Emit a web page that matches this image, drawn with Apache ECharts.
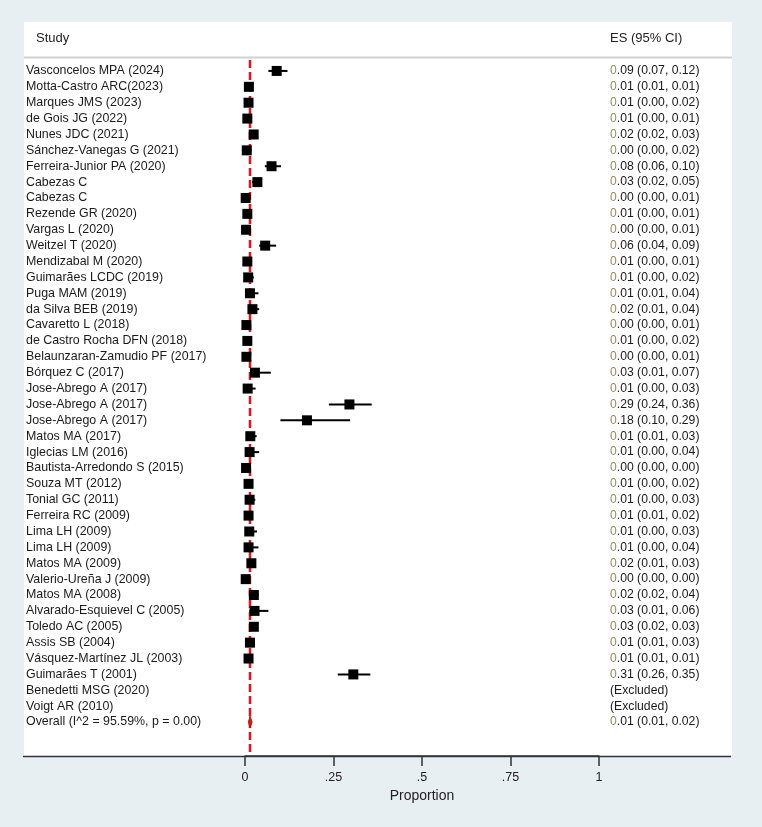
<!DOCTYPE html>
<html><head><meta charset="utf-8">
<script src="https://cdn.jsdelivr.net/npm/echarts@6/dist/echarts.min.js"></script>
<style>html,body{margin:0;padding:0;background:#e8eff2}#c{width:762px;height:827px}</style>
</head><body><div id="c"></div>
<script>
const studies = [
 'Vasconcelos MPA (2024)','Motta-Castro ARC(2023)','Marques JMS (2023)','de Gois JG (2022)','Nunes JDC (2021)',
 'Sánchez-Vanegas G (2021)','Ferreira-Junior PA (2020)','Cabezas C','Cabezas C','Rezende GR (2020)',
 'Vargas L (2020)','Weitzel T (2020)','Mendizabal M (2020)','Guimarães LCDC (2019)','Puga MAM (2019)',
 'da Silva BEB (2019)','Cavaretto L (2018)','de Castro Rocha DFN (2018)','Belaunzaran-Zamudio PF (2017)','Bórquez C (2017)',
 'Jose-Abrego A (2017)','Jose-Abrego A (2017)','Jose-Abrego A (2017)','Matos MA (2017)','Iglecias LM (2016)',
 'Bautista-Arredondo S (2015)','Souza MT (2012)','Tonial GC (2011)','Ferreira RC (2009)','Lima LH (2009)',
 'Lima LH (2009)','Matos MA (2009)','Valerio-Ureña J (2009)','Matos MA (2008)','Alvarado-Esquievel C (2005)',
 'Toledo AC (2005)','Assis SB (2004)','Vásquez-Martínez JL (2003)','Guimarães T (2001)','Benedetti MSG (2020)',
 'Voigt AR (2010)','Overall (I^2 = 95.59%, p = 0.00)'
];
const esLabels = [
 '0.09 (0.07, 0.12)','0.01 (0.01, 0.01)','0.01 (0.00, 0.02)','0.01 (0.00, 0.01)','0.02 (0.02, 0.03)',
 '0.00 (0.00, 0.02)','0.08 (0.06, 0.10)','0.03 (0.02, 0.05)','0.00 (0.00, 0.01)','0.01 (0.00, 0.01)',
 '0.00 (0.00, 0.01)','0.06 (0.04, 0.09)','0.01 (0.00, 0.01)','0.01 (0.00, 0.02)','0.01 (0.01, 0.04)',
 '0.02 (0.01, 0.04)','0.00 (0.00, 0.01)','0.01 (0.00, 0.02)','0.00 (0.00, 0.01)','0.03 (0.01, 0.07)',
 '0.01 (0.00, 0.03)','0.29 (0.24, 0.36)','0.18 (0.10, 0.29)','0.01 (0.01, 0.03)','0.01 (0.00, 0.04)',
 '0.00 (0.00, 0.00)','0.01 (0.00, 0.02)','0.01 (0.00, 0.03)','0.01 (0.01, 0.02)','0.01 (0.00, 0.03)',
 '0.01 (0.00, 0.04)','0.02 (0.01, 0.03)','0.00 (0.00, 0.00)','0.02 (0.02, 0.04)','0.03 (0.01, 0.06)',
 '0.03 (0.02, 0.03)','0.01 (0.01, 0.03)','0.01 (0.01, 0.01)','0.31 (0.26, 0.35)','(Excluded)',
 '(Excluded)','0.01 (0.01, 0.02)'
];
// effect sizes as plotted (last entry = overall)
const es = [0.0895,0.011,0.010,0.0066,0.0245,0.005,0.075,0.035,0.002,0.0066,
 0.003,0.057,0.0066,0.009,0.014,0.021,0.004,0.0066,0.004,0.028,
 0.0075,0.295,0.175,0.015,0.013,0.003,0.010,0.013,0.010,0.012,
 0.010,0.018,0.002,0.025,0.027,0.025,0.014,0.010,0.306,null,
 null,0.014];
const lo = [0.066,0.008,0.003,0.002,0.018,0.001,0.056,0.020,0.000,0.003,
 0.000,0.040,0.003,0.004,0.006,0.010,0.001,0.002,0.001,0.014,
 0.002,0.237,0.100,0.008,0.004,0.001,0.004,0.004,0.006,0.004,
 0.003,0.010,0.001,0.018,0.012,0.020,0.008,0.007,0.262,null,
 null,0.010];
const hi = [0.120,0.013,0.020,0.012,0.032,0.018,0.102,0.048,0.008,0.012,
 0.009,0.088,0.012,0.025,0.038,0.040,0.010,0.016,0.009,0.073,
 0.030,0.358,0.297,0.033,0.040,0.005,0.020,0.029,0.020,0.034,
 0.038,0.030,0.004,0.039,0.066,0.032,0.028,0.013,0.354,null,
 null,0.020];
const xTicks = [0, 0.25, 0.5, 0.75, 1];
const tickLabels = ['0', '.25', '.5', '.75', '1'];
const refLine = 0.014;
const overallRow = studies.length - 1;

const FONT = "'Liberation Sans', Arial, sans-serif";
const rows = studies.map((_, i) => i);
const squares = [], whiskers = [];
rows.forEach(i => {
  if (i === overallRow || es[i] == null) return;
  squares.push([es[i], i]);
  whiskers.push([lo[i], hi[i], i]);
});
const diamond = [[lo[overallRow], es[overallRow], hi[overallRow], overallRow]];

const chart = echarts.init(document.getElementById('c'), null, {renderer: 'canvas'});
chart.setOption({
  backgroundColor: '#e8eff2',
  animation: false,
  textStyle: {fontFamily: FONT},
  graphic: [
    {type: 'rect', z: -10, shape: {x: 24, y: 22, width: 708, height: 734}, style: {fill: '#ffffff'}},
    {type: 'line', z: -9, shape: {x1: 24, y1: 57.5, x2: 732, y2: 57.5}, style: {stroke: '#d2d2d2', lineWidth: 2}},
    {type: 'text', x: 36, y: 38, style: {text: 'Study', font: '13px ' + FONT, fill: '#222', verticalAlign: 'middle'}},
    {type: 'text', x: 610, y: 38, style: {text: 'ES (95% CI)', font: '13px ' + FONT, fill: '#222', verticalAlign: 'middle'}},
    {type: 'line', z: 5, shape: {x1: 23, y1: 756.5, x2: 731, y2: 756.5}, style: {stroke: '#333', lineWidth: 1.5}}
  ],
  grid: [
    {left: 245, right: 163, top: 60, bottom: 71},
    {left: 245, right: 163, top: 63, height: 667}
  ],
  xAxis: [
    {gridIndex: 0, type: 'value', min: 0, max: 1, interval: 0.25,
     axisLine: {show: true, lineStyle: {color: '#333', width: 1.5}},
     axisTick: {show: true, length: 10, lineStyle: {color: '#333', width: 1.5}},
     axisLabel: {margin: 15, fontSize: 12.5, color: '#222', fontFamily: FONT,
       formatter: v => { const k = xTicks.indexOf(v); return k >= 0 ? tickLabels[k] : ''; }},
     splitLine: {show: false},
     name: 'Proportion', nameLocation: 'middle', nameGap: 30,
     nameTextStyle: {fontSize: 14, color: '#222', fontFamily: FONT}},
    {gridIndex: 1, type: 'value', min: 0, max: 1, show: false}
  ],
  yAxis: [
    {gridIndex: 0, type: 'value', min: 0, max: 1, show: false},
    {gridIndex: 1, type: 'category', data: studies, inverse: true, position: 'left',
     axisLine: {show: false}, axisTick: {show: false}, splitLine: {show: false},
     axisLabel: {align: 'left', margin: 219, fontSize: 12.4, color: '#1a1a1a', fontFamily: FONT, interval: 0}},
    {gridIndex: 1, type: 'category', data: esLabels, inverse: true, position: 'right',
     axisLine: {show: false}, axisTick: {show: false}, splitLine: {show: false},
     axisLabel: {align: 'left', margin: 11, fontSize: 12.2, color: '#1a1a1a', fontFamily: FONT, interval: 0,
       formatter: v => /^\d/.test(v) ? '{a|' + v.charAt(0) + '}{b|' + v.slice(1) + '}' : '{b|' + v + '}',
       rich: {a: {color: '#9a8c5c', fontSize: 12.2, fontFamily: FONT}, b: {color: '#1a1a1a', fontSize: 12.2, fontFamily: FONT}}}}
  ],
  series: [
    {type: 'custom', xAxisIndex: 0, yAxisIndex: 0, z: 1, data: [[refLine]],
     renderItem: (params, api) => {
       const x = api.coord([api.value(0), 0])[0];
       const cs = params.coordSys;
       return {type: 'line', shape: {x1: x, y1: cs.y, x2: x, y2: cs.y + cs.height},
               style: {stroke: '#e5141b', lineWidth: 2.5, lineDash: [8, 4]}};
     }},
    {type: 'custom', xAxisIndex: 1, yAxisIndex: 1, z: 3, data: whiskers,
     renderItem: (params, api) => {
       const a = api.coord([api.value(0), api.value(2)]);
       const b = api.coord([api.value(1), api.value(2)]);
       return {type: 'line', shape: {x1: a[0], y1: a[1], x2: b[0], y2: b[1]},
               style: {stroke: '#000', lineWidth: 2}};
     }},
    {type: 'scatter', xAxisIndex: 1, yAxisIndex: 1, z: 4, data: squares,
     symbol: 'rect', symbolSize: 10, itemStyle: {color: '#000', opacity: 1}},
    {type: 'custom', xAxisIndex: 1, yAxisIndex: 1, z: 4, data: diamond,
     renderItem: (params, api) => {
       const r = api.value(3);
       const l = api.coord([api.value(0), r]);
       const m = api.coord([api.value(1), r]);
       const h = api.coord([api.value(2), r]);
       return {type: 'polygon', shape: {points: [[l[0], l[1]], [m[0], m[1] - 6], [h[0], h[1]], [m[0], m[1] + 6]]},
               style: {fill: '#e5141b', stroke: '#c01010', lineWidth: 1}};
     }}
  ]
});
</script></body></html>
